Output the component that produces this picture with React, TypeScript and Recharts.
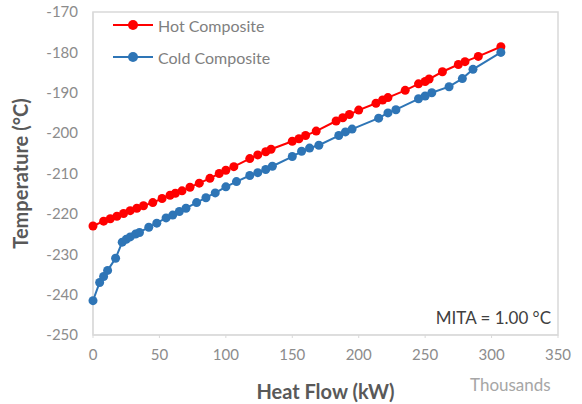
import { LineChart, Line, XAxis, YAxis, ReferenceArea, Label } from "recharts"

// Hot composite curve (heat flow in kW/1000, temperature in °C)
const hotX = [0, 8, 13, 18, 23, 28, 33, 38, 45, 52, 58, 62, 67, 73, 80, 88, 95, 100, 106, 118, 124, 130, 134, 150, 155, 160, 168, 183, 188, 193, 200, 213, 218, 222, 235, 245, 250, 253, 263, 275, 280, 290, 307]
const hotT = [-223, -221.8, -221.2, -220.6, -219.9, -219.2, -218.6, -218, -217.2, -216.2, -215.4, -214.9, -214.3, -213.4, -212.4, -211.2, -210, -209.2, -208.3, -206.3, -205.4, -204.6, -204, -202, -201.4, -200.6, -199.5, -197, -196.2, -195.4, -194.3, -192.6, -191.8, -191.2, -189.4, -187.8, -187.2, -186.6, -184.8, -183, -182.3, -181, -178.6]

// Cold composite curve
const coldX = [0, 5, 8, 11, 17, 22, 25, 28, 32, 35, 42, 48, 55, 60, 65, 70, 78, 85, 92, 100, 108, 118, 124, 130, 135, 150, 157, 163, 170, 185, 190, 195, 215, 222, 228, 245, 250, 255, 268, 278, 286, 307]
const coldT = [-241.5, -237, -235.5, -234, -231, -227, -226.3, -225.7, -225, -224.6, -223.3, -222.3, -221, -220.3, -219.4, -218.6, -217.2, -216, -214.8, -213.3, -212, -210.5, -209.8, -209, -208.2, -205.8, -204.5, -203.7, -203, -200.6, -199.7, -199, -196.3, -195, -194.2, -191.5, -190.8, -190, -188.5, -186.5, -184.2, -180]

const xTicks = [0, 50, 100, 150, 200, 250, 300, 350]
const yTicks = [-250, -240, -230, -220, -210, -200, -190, -180, -170]

const hotData = hotX.map((x, i) => ({ x, t: hotT[i] }))
const coldData = coldX.map((x, i) => ({ x, t: coldT[i] }))

const HOT = "#ff0000"
const COLD = "#2e75b6"
const FONT = "Lato, 'Open Sans', sans-serif"

function LegendItem({ color, label }: { color: string; label: string }) {
  return (
    <div style={{ display: "flex", alignItems: "center", height: 32 }}>
      <svg width={44} height={12}>
        <line x1={2} y1={6} x2={42} y2={6} stroke={color} strokeWidth={2} />
        <circle cx={22} cy={6} r={5} fill={color} />
      </svg>
      <span style={{ marginLeft: 3, fontSize: 16, color: "#7f7f7f" }}>{label}</span>
    </div>
  )
}

export default function App() {
  return (
    <div style={{ position: "absolute", left: 0, top: 0, width: 582, height: 404, fontFamily: FONT, background: "#fff" }}>
      <LineChart width={582} height={404} margin={{ top: 12, right: 24, bottom: 0, left: 33 }}>
        <ReferenceArea x1={0} x2={350} y1={-250} y2={-170} fill="none" stroke="#d9d9d9" strokeWidth={1.5} />
        <XAxis
          type="number"
          dataKey="x"
          domain={[0, 350]}
          ticks={xTicks}
          interval={0}
          height={69}
          stroke="#d9d9d9"
          tickSize={3}
          tickMargin={11}
          tick={{ fill: "#8c8c8c", fontSize: 15, fontFamily: FONT }}
        >
          <Label value="Heat Flow (kW)" position="insideBottom" offset={5} fill="#595959" fontSize={20} fontWeight="bold" fontFamily={FONT} />
        </XAxis>
        <YAxis
          type="number"
          domain={[-250, -170]}
          ticks={yTicks}
          interval={0}
          width={60}
          stroke="#d9d9d9"
          tickLine={false}
          tickSize={0}
          tickMargin={15}
          tick={{ fill: "#8c8c8c", fontSize: 15, fontFamily: FONT }}
        >
          <Label value="Temperature (°C)" angle={-90} position="insideLeft" offset={-12} fill="#595959" fontSize={20} fontWeight="bold" fontFamily={FONT} style={{ textAnchor: "middle" }} />
        </YAxis>
        <Line data={hotData} dataKey="t" type="linear" stroke={HOT} strokeWidth={2} dot={{ r: 4.5, fill: HOT, stroke: HOT, strokeWidth: 0 }} isAnimationActive={false} />
        <Line data={coldData} dataKey="t" type="linear" stroke={COLD} strokeWidth={2} dot={{ r: 4.5, fill: COLD, stroke: COLD, strokeWidth: 0 }} isAnimationActive={false} />
      </LineChart>
      <div style={{ position: "absolute", left: 111, top: 9 }}>
        <LegendItem color={HOT} label="Hot Composite" />
        <LegendItem color={COLD} label="Cold Composite" />
      </div>
      <div style={{ position: "absolute", right: 31, top: 307, fontSize: 17, color: "#404040" }}>MITA = 1.00 °C</div>
      <div style={{ position: "absolute", left: 470, top: 374, fontSize: 17, color: "#a6a6a6" }}>Thousands</div>
    </div>
  )
}
